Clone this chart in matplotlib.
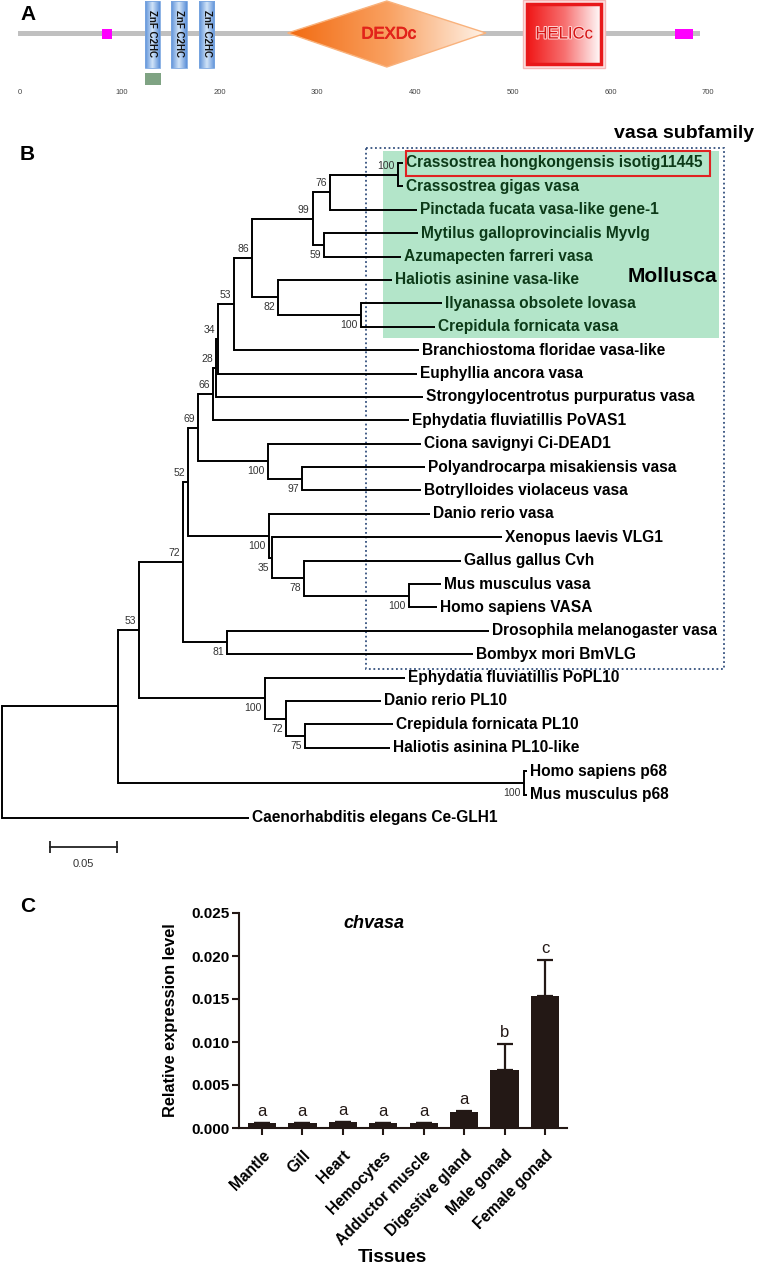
import matplotlib
matplotlib.use('Agg')
import matplotlib.pyplot as plt
import matplotlib.patches as mpatches
import matplotlib.transforms as mtransforms
import matplotlib.patheffects as pe
from matplotlib.colors import LinearSegmentedColormap
import numpy as np

plt.rcParams['font.family'] = ['Liberation Sans', 'DejaVu Sans']

# ---------------- panel A: domain architecture (aa positions)
protein_len = 698
aa_ticks = [0, 100, 200, 300, 400, 500, 600, 700]
znf_start = [130, 157, 185]
znf_end = [145, 173, 201]
dexdc_range = [276, 479]
helicc_range = [518, 600]
lowcomp_start = [86, 672]
lowcomp_end = [96, 691]
extra_range = [130, 146]

# ---------------- panel B: neighbour-joining tree
leaf_names = [
    "Crassostrea hongkongensis isotig11445", "Crassostrea gigas vasa",
    "Pinctada fucata vasa-like gene-1", "Mytilus galloprovincialis Myvlg",
    "Azumapecten farreri vasa", "Haliotis asinine vasa-like",
    "Ilyanassa obsolete lovasa", "Crepidula fornicata vasa",
    "Branchiostoma floridae vasa-like", "Euphyllia ancora vasa",
    "Strongylocentrotus purpuratus vasa", "Ephydatia fluviatillis PoVAS1",
    "Ciona savignyi Ci-DEAD1", "Polyandrocarpa misakiensis vasa",
    "Botrylloides violaceus vasa", "Danio rerio vasa", "Xenopus laevis VLG1",
    "Gallus gallus Cvh", "Mus musculus vasa", "Homo sapiens VASA",
    "Drosophila melanogaster vasa", "Bombyx mori BmVLG",
    "Ephydatia fluviatillis PoPL10", "Danio rerio PL10",
    "Crepidula fornicata PL10", "Haliotis asinina PL10-like",
    "Homo sapiens p68", "Mus musculus p68", "Caenorhabditis elegans Ce-GLH1",
]
# distance from root (substitutions/site)
leaf_depth = [0.301, 0.301, 0.311, 0.312, 0.299, 0.2926, 0.330, 0.325,
              0.313, 0.311, 0.316, 0.305, 0.314, 0.317, 0.314, 0.321,
              0.375, 0.344, 0.329, 0.326, 0.365, 0.353, 0.302, 0.284,
              0.293, 0.291, 0.394, 0.394, 0.185]
# internal nodes, children first; int = leaf index, 'nK' = node K
node_children = [
    (0, 1), ('n0', 2), (3, 4), ('n1', 'n2'), (6, 7), (5, 'n4'),
    ('n3', 'n5'), ('n6', 8), ('n7', 9), ('n8', 10), ('n9', 11),
    (13, 14), (12, 'n11'), ('n10', 'n12'), (18, 19), (17, 'n14'),
    (16, 'n15'), (15, 'n16'), ('n13', 'n17'), (20, 21), ('n18', 'n19'),
    (24, 25), (23, 'n21'), (22, 'n22'), ('n20', 'n23'), (26, 27),
    ('n24', 'n25'), ('n26', 28),
]
node_depth = [0.297, 0.246, 0.2416, 0.233, 0.269, 0.207, 0.1875, 0.174,
              0.162, 0.1605, 0.158, 0.225, 0.1995, 0.147, 0.305, 0.2266,
              0.2026, 0.200, 0.1395, 0.169, 0.1358, 0.227, 0.213, 0.197,
              0.1028, 0.3916, 0.087, 0.0]
node_support = [100, 76, 59, 99, 100, 82, 86, 53, 34, 28, 66, 97, 100, 69,
                100, 78, 35, 100, 52, 81, 72, 75, 72, 100, 53, 100, None, None]
mollusca = 8  # first 8 leaves

# ---------------- panel C: qPCR
tissues = ["Mantle", "Gill", "Heart", "Hemocytes", "Adductor muscle",
           "Digestive gland", "Male gonad", "Female gonad"]
expr_mean = [0.0006, 0.0006, 0.0007, 0.00055, 0.00055, 0.00184, 0.0067, 0.0154]
expr_err = [0, 0, 0, 0, 0, 0.0001, 0.0031, 0.0041]
sig_letters = ["a", "a", "a", "a", "a", "a", "b", "c"]

W, H = 761, 1265
fig = plt.figure(figsize=(W / 100, H / 100), dpi=100)
pix = mtransforms.Affine2D().scale(1 / 100, -1 / 100).translate(0, H / 100) + fig.dpi_scale_trans


def grad_fill(ax, patch, colors, extent, z):
    ax.add_patch(patch)
    cmap = LinearSegmentedColormap.from_list('g', colors)
    im = ax.imshow(np.linspace(0, 1, 256).reshape(1, -1), cmap=cmap, extent=extent,
                   aspect='auto', zorder=z, interpolation='bilinear')
    im.set_clip_path(patch)


# ======================= A
axA = fig.add_axes([0, (H - 100) / H, 1, 100 / H])
px_per_aa = 0.977
axA.add_patch(mpatches.Rectangle((0, 30.5), protein_len, 5, fc='#c0c0c0', ec='none', zorder=1))
for s, e in zip(lowcomp_start, lowcomp_end):
    axA.add_patch(mpatches.Rectangle((s, 28.5), e - s, 10, fc='#ff00ff', ec='none', zorder=2))
axA.add_patch(mpatches.Rectangle((extra_range[0], 73), extra_range[1] - extra_range[0], 12,
                                 fc='#7fa383', ec='none', zorder=2))
for s, e in zip(znf_start, znf_end):
    r = mpatches.Rectangle((s, 1), e - s, 67, fc='none', ec='#7aa6e0', lw=0.6, zorder=4)
    grad_fill(axA, r, ['#5a8fd8', '#d2e4f8', '#5a8fd8'], (s, e, 68, 1), 3)
    axA.text((s + e) / 2, 34, "ZnF C2HC", rotation=-90, ha='center', va='center',
             fontsize=7, fontweight='bold', color='#111', zorder=5)
d0, d1 = dexdc_range
dm = (d0 + d1) / 2
dia = mpatches.Polygon([(d0, 33), (dm, 1), (d1, 33), (dm, 67)], closed=True,
                       fc='none', ec='#f9b27c', lw=1, zorder=4)
grad_fill(axA, dia, ['#f26a10', '#f9a060', '#fff4ea'], (d0, d1, 67, 1), 3)
axA.text(dm + 2, 34, "DEXDc", ha='center', va='center', fontsize=12, color='#e2231a', zorder=5,
         path_effects=[pe.withStroke(linewidth=0.6, foreground='#e2231a')])
h0, h1 = helicc_range
axA.add_patch(mpatches.Rectangle((h0 - 1, 0), h1 - h0 + 2, 68, fc='#fde4e4', ec='#f5b8b8', lw=1, zorder=2))
inner = mpatches.Rectangle((h0 + 3, 4), h1 - h0 - 6, 60, fc='none', ec='#e8181a', lw=2.5, zorder=4)
grad_fill(axA, inner, ['#f01616', '#f77070', '#ffffff'], (h0 + 3, h1 - 3, 64, 4), 3)
axA.text((h0 + h1) / 2, 34, "HELICc", ha='center', va='center', fontsize=12, color='#d41414', zorder=5,
         path_effects=[pe.withStroke(linewidth=1.5, foreground='#ffd0d0')])
for t in aa_ticks:
    axA.text(t, 92, str(t), ha='left', va='center', fontsize=5.5, color='#444')
axA.set_xlim(-18 / px_per_aa, (W - 18) / px_per_aa)
axA.set_ylim(100, 0)
axA.axis('off')

# ======================= B
axB = fig.add_axes([0, (H - 870) / H, 1, 740 / H])
axB.patch.set_alpha(0)
px_unit, leaf0, dy = 1333.0, 163, 23.39
axB.set_xlim(-2 / px_unit, (W - 2) / px_unit)
axB.set_ylim((870 - leaf0) / dy, (130 - leaf0) / dy)
axB.axis('off')

node_y = []
parent = {}


def pos(c):
    if isinstance(c, int):
        return leaf_depth[c], float(c)
    k = int(c[1:])
    return node_depth[k], node_y[k]


for k, kids in enumerate(node_children):
    node_y.append(np.mean([pos(c)[1] for c in kids]))
    for c in kids:
        parent[c] = k

lw = 1.4
for k, kids in enumerate(node_children):
    ys = [pos(c)[1] for c in kids]
    axB.plot([node_depth[k]] * 2, [min(ys), max(ys)], color='k', lw=lw,
             solid_capstyle='projecting', zorder=3)
    for c in kids:
        cx, cy = pos(c)
        axB.plot([node_depth[k], cx], [cy, cy], color='k', lw=lw,
                 solid_capstyle='butt', zorder=3)

for k, sup in enumerate(node_support):
    if sup is None:
        continue
    pk = parent['n%d' % k]
    sib_ys = [pos(c)[1] for c in node_children[pk]]
    upper = node_y[k] <= min(sib_ys)
    tr = mtransforms.offset_copy(axB.transData, fig, x=-3, y=(9 if upper else -10), units='dots')
    axB.text(node_depth[k], node_y[k], str(sup), transform=tr, ha='right', va='center',
             fontsize=7.5, color='#333')

txt_tr = mtransforms.offset_copy(axB.transData, fig, x=3, y=0, units='dots')
for i, name in enumerate(leaf_names):
    axB.text(leaf_depth[i], i, name, transform=txt_tr, ha='left', va='center',
             fontsize=11.2, fontweight='bold', color=('#0c3a18' if i < mollusca else 'k'), zorder=5)

# decorations in pixel space
axB.add_patch(mpatches.Rectangle((383, 151), 336, 187, transform=pix, fc='#b3e5c9', ec='none', zorder=0))
axB.add_patch(mpatches.Rectangle((366, 148), 358, 521, transform=pix, fc='none', ec='#34507e',
                                 lw=1.3, ls=(0, (1, 1.5)), zorder=1, clip_on=False))
axB.add_patch(mpatches.Rectangle((406, 151), 304, 25, transform=pix, fc='none', ec='#e02222',
                                 lw=1.5, zorder=6, clip_on=False))
axB.text(754, 133, "vasa subfamily", transform=pix, ha='right', va='center', fontsize=14,
         fontweight='bold')
axB.text(717, 277, "Mollusca", transform=pix, ha='right', va='center', fontsize=15,
         fontweight='bold', zorder=6)

# scale bar
sb_x0 = 48 / px_unit
sb_y = (847 - leaf0) / dy
axB.plot([sb_x0, sb_x0 + 0.05], [sb_y, sb_y], color='#222', lw=1.3)
axB.plot([sb_x0, sb_x0 + 0.05], [sb_y, sb_y], ls='none', marker='|', ms=8, mew=1.3, color='#222')
axB.text(sb_x0 + 0.025, (864 - leaf0) / dy, "0.05", ha='center', va='center', fontsize=8, color='#333')

# panel labels
for lab, (x, y) in zip("ABC", [(20, 15), (20, 155), (20, 906)]):
    fig.text(x / W, 1 - y / H, lab, fontsize=15, fontweight='bold', ha='left', va='center')

# ======================= C
ax_l, ax_r, ax_t, ax_b = 239, 567, 913, 1128
axC = fig.add_axes([ax_l / W, (H - ax_b) / H, (ax_r - ax_l) / W, (ax_b - ax_t) / H])
xs = np.arange(len(tissues))
axC.bar(xs, expr_mean, width=0.7, color='#231815', zorder=2)
axC.errorbar(xs, expr_mean, yerr=[np.zeros(len(xs)), expr_err], fmt='none', ecolor='#231815',
             elinewidth=1.6, capsize=5.5, capthick=1.6, zorder=1)
for x, m, e, l in zip(xs, expr_mean, expr_err, sig_letters):
    axC.text(x, m + e + 0.0008, l, ha='center', va='baseline', fontsize=12, color='#231815')
axC.set_xlim(-0.569, 7.544)
axC.set_ylim(0, 0.025)
axC.set_yticks([0, 0.005, 0.010, 0.015, 0.020, 0.025])
axC.set_yticklabels(['%.3f' % v for v in axC.get_yticks()], fontsize=11, fontweight='bold')
axC.set_xticks(xs)
axC.set_xticklabels(tissues, rotation=45, ha='right', rotation_mode='anchor', fontsize=11.2,
                    fontweight='bold')
shift = mtransforms.ScaledTranslation(6 / 100, 0, fig.dpi_scale_trans)
for lab in axC.get_xticklabels():
    lab.set_transform(lab.get_transform() + shift)
axC.tick_params(axis='both', direction='out', length=5, width=1.5, color='#231815')
axC.tick_params(axis='y', pad=1.5)
axC.tick_params(axis='x', pad=9)
for s in ['top', 'right']:
    axC.spines[s].set_visible(False)
for s in ['left', 'bottom']:
    axC.spines[s].set_linewidth(1.5)
    axC.spines[s].set_color('#231815')
cw, ch = ax_r - ax_l, ax_b - ax_t
axC.set_ylabel("Relative expression level", fontsize=11.8, fontweight='bold')
axC.yaxis.set_label_coords((178 - ax_l) / cw, (ax_b - 1020) / ch)
axC.text((374 - ax_l) / cw, (ax_b - 923) / ch, "chvasa", transform=axC.transAxes, ha='center',
         va='center', fontsize=13, fontweight='bold', style='italic')
axC.text((392 - ax_l) / cw, -(1258 - ax_b) / ch, "Tissues", transform=axC.transAxes,
         ha='center', va='center', fontsize=13.5, fontweight='bold')

fig.savefig('out.png', dpi=100)
